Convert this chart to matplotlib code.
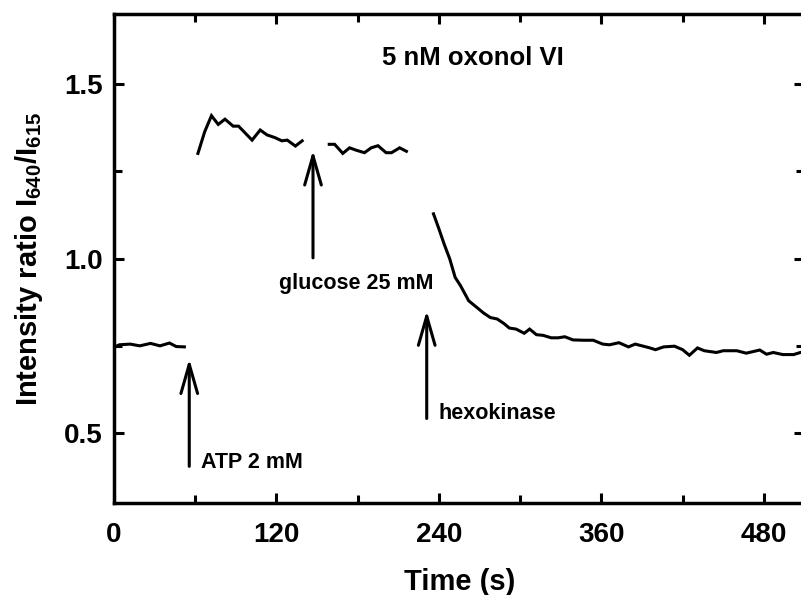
import numpy as np
import matplotlib
matplotlib.use("Agg")
import matplotlib.pyplot as plt
from matplotlib.ticker import MultipleLocator

plt.rcParams['font.family'] = ['Liberation Sans', 'DejaVu Sans']
plt.rcParams['font.weight'] = 'bold'
plt.rcParams['mathtext.fontset'] = 'custom'
plt.rcParams['mathtext.rm'] = 'Liberation Sans:bold'
plt.rcParams['mathtext.bf'] = 'Liberation Sans:bold'
plt.rcParams['mathtext.default'] = 'rm'

# baseline before ATP
t_base = [0, 4, 12, 19, 27, 34, 41, 46, 52]
r_base = [0.746, 0.753, 0.755, 0.750, 0.757, 0.750, 0.758, 0.748, 0.747]

# after ATP 2 mM
t_atp = [62, 67, 72, 77, 82, 88, 92, 102, 108, 113, 119, 124, 128, 134, 139]
r_atp = [1.301, 1.363, 1.409, 1.384, 1.399, 1.379, 1.379, 1.339, 1.368,
         1.354, 1.346, 1.337, 1.339, 1.322, 1.337]

# after glucose 25 mM
t_glc = [159, 163, 169, 174, 179, 185, 190, 195, 201, 205, 211, 216]
r_glc = [1.327, 1.327, 1.301, 1.317, 1.310, 1.303, 1.317, 1.323, 1.303,
         1.303, 1.317, 1.307]

# after hexokinase
t_hk = [236, 240, 244, 248, 252, 256, 262, 268, 273, 278, 283, 288, 292,
        297, 303, 307, 312, 317, 323, 328, 333, 339, 347, 354, 361, 366,
        373, 380, 385, 390, 395, 400, 406, 414, 420, 425, 431, 436, 445,
        450, 460, 467, 477, 482, 487, 494, 502, 507]
r_hk = [1.128, 1.085, 1.040, 0.999, 0.946, 0.922, 0.879, 0.860, 0.844,
        0.831, 0.827, 0.814, 0.801, 0.798, 0.786, 0.798, 0.782, 0.780,
        0.773, 0.773, 0.776, 0.767, 0.766, 0.766, 0.755, 0.753, 0.759,
        0.747, 0.755, 0.750, 0.745, 0.739, 0.747, 0.749, 0.739, 0.723,
        0.744, 0.736, 0.731, 0.736, 0.736, 0.729, 0.738, 0.726, 0.731,
        0.725, 0.725, 0.731]

# additions: (label, arrow x, tip y, tail y, text x, text y, text alignment)
additions = [
    ("ATP 2 mM", 55.6, 0.713, 0.405, 64, 0.417, 'left'),
    ("glucose 25 mM", 147, 1.310, 1.002, 179, 0.928, 'center'),
    ("hexokinase", 231, 0.851, 0.542, 240, 0.555, 'left'),
]

fig = plt.figure(figsize=(8.01, 5.95), dpi=100)
ax = fig.add_axes([0.1423, 0.1546, 0.862, 0.8218])

lw = 2.2
for t, r in [(t_base, r_base), (t_atp, r_atp), (t_glc, r_glc), (t_hk, r_hk)]:
    ax.plot(t, r, color='black', lw=lw, solid_joinstyle='miter')

for label, x, tip, tail, tx, ty, ha in additions:
    ax.annotate("", xy=(x, tip), xytext=(x, tail),
                arrowprops=dict(arrowstyle='->,head_length=1.05,head_width=0.3',
                                lw=lw, color='black', mutation_scale=20,
                                shrinkA=0, shrinkB=0))
    ax.text(tx, ty, label, ha=ha, va='center', fontsize=15.5, fontweight='bold')

ax.text(265, 1.575, "5 nM oxonol VI", ha='center', va='center',
        fontsize=18.5, fontweight='bold')

ax.set_xlim(0, 510)
ax.set_ylim(0.3, 1.7)
ax.xaxis.set_major_locator(MultipleLocator(120))
ax.xaxis.set_minor_locator(MultipleLocator(60))
ax.yaxis.set_major_locator(MultipleLocator(0.5))
ax.yaxis.set_minor_locator(MultipleLocator(0.25))
ax.tick_params(which='both', direction='in', top=True, right=True,
               width=2.2, labelsize=20)
ax.tick_params(axis='x', which='major', pad=14)
ax.tick_params(axis='y', which='major', pad=8)
ax.tick_params(which='major', length=7)
ax.tick_params(which='minor', length=6)
ax.yaxis.set_major_formatter(matplotlib.ticker.FormatStrFormatter('%.1f'))
for s in ax.spines.values():
    s.set_linewidth(2.5)

ax.set_xlabel("Time (s)", fontsize=21, fontweight='bold', labelpad=14)
ax.set_ylabel(r"Intensity ratio I$_{640}$/I$_{615}$", fontsize=21,
              fontweight='bold', labelpad=14)

fig.savefig("out.png", dpi=100)
